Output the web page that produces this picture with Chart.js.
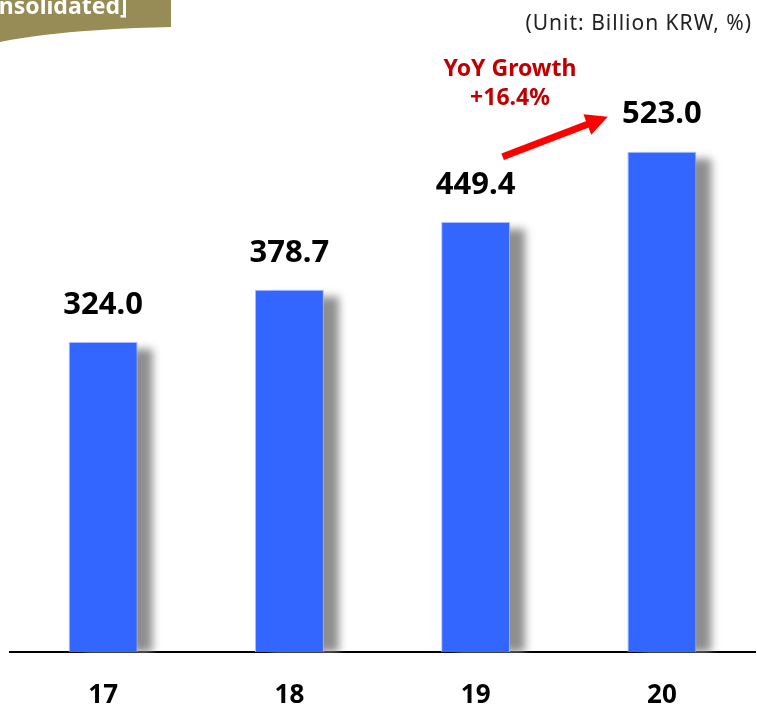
<!DOCTYPE html>
<html>
<head>
<meta charset="utf-8">
<script src="https://cdn.jsdelivr.net/npm/chart.js@4/dist/chart.umd.min.js"></script>
<style>
    body { margin: 0; background: #fff; font-family: "Noto Sans", sans-serif; }
    #wrap { position: relative; width: 757px; height: 706px; overflow: hidden; }
    #tag { position: absolute; left: 0; top: 0; }
    #tagText { position: absolute; left: -38px; top: -11px; color: #fff; font-weight: bold; font-size: 23px; white-space: nowrap; }
    #unit { position: absolute; right: 5px; top: 8px; color: #222; font-size: 21px; letter-spacing: 1px; }
    #yoy { position: absolute; left: 420px; top: 53px; width: 180px; text-align: center; color: #c00000; font-weight: bold; font-size: 23px; line-height: 29px; }
</style>
</head>
<body>
<div id="wrap">
    <canvas id="chart" width="757" height="706"></canvas>
    <svg id="tag" width="180" height="50">
        <path d="M0,0 L171,0 L171,27 C130,28 60,30 0,42 Z" fill="#978c55"/>
    </svg>
    <div id="tagText">[Consolidated]</div>
    <div id="unit">(Unit: Billion KRW, %)</div>
    <div id="yoy">YoY Growth<br>+16.4%</div>
</div>
<script>
// ===== Datos =====
const years = ['17', '18', '19', '20'];
const revenue = [324.0, 378.7, 449.4, 523.0];

// Sombra gris a la derecha de las barras
const shadowPlugin = {
    id: 'shadow',
    beforeDatasetsDraw(chart) {
        const ctx = chart.ctx;
        const meta = chart.getDatasetMeta(0);
        ctx.save();
        ctx.filter = 'blur(4px)';
        ctx.fillStyle = '#8e8e8e';
        meta.data.forEach(bar => {
            const w = bar.width;
            ctx.fillRect(bar.x - w / 2 + 15, bar.y + 7, w, bar.base - bar.y - 7);
        });
        ctx.restore();
        // limpiar la sombra por debajo de la línea base
        ctx.save();
        ctx.fillStyle = '#fff';
        ctx.fillRect(0, chart.chartArea.bottom + 1, chart.width, 14);
        ctx.restore();
    }
};

// Etiquetas de valor y flecha
const labelPlugin = {
    id: 'labels',
    afterDraw(chart) {
        const ctx = chart.ctx;
        const meta = chart.getDatasetMeta(0);
        ctx.save();
        ctx.fillStyle = '#000';
        ctx.font = 'bold 31px "Noto Sans"';
        ctx.textAlign = 'center';
        ctx.textBaseline = 'middle';
        meta.data.forEach((bar, i) => {
            ctx.fillText(revenue[i].toFixed(1), bar.x, bar.y - 37);
        });

        // flecha roja
        const b3 = meta.data[2], b4 = meta.data[3];
        const x1 = b3.x + 27, y1 = b4.y + 5;
        const x2 = b4.x - 54, y2 = b4.y - 35;
        const ang = Math.atan2(y2 - y1, x2 - x1);
        ctx.strokeStyle = '#ff0000';
        ctx.fillStyle = '#ff0000';
        ctx.lineWidth = 7;
        ctx.beginPath();
        ctx.moveTo(x1, y1);
        ctx.lineTo(x2 - 16 * Math.cos(ang), y2 - 16 * Math.sin(ang));
        ctx.stroke();
        ctx.beginPath();
        ctx.moveTo(x2, y2);
        ctx.lineTo(x2 - 22 * Math.cos(ang) + 11 * Math.sin(ang), y2 - 22 * Math.sin(ang) - 11 * Math.cos(ang));
        ctx.lineTo(x2 - 22 * Math.cos(ang) - 11 * Math.sin(ang), y2 - 22 * Math.sin(ang) + 11 * Math.cos(ang));
        ctx.closePath();
        ctx.fill();
        ctx.restore();
    }
};

new Chart(document.getElementById('chart').getContext('2d'), {
    type: 'bar',
    data: {
        labels: years,
        datasets: [{
            data: revenue,
            backgroundColor: '#3366ff',
            borderColor: '#a9bdff',
            borderWidth: 1,
            barPercentage: 0.37,
            categoryPercentage: 1
        }]
    },
    options: {
        responsive: false,
        animation: false,
        layout: { padding: { left: 10, right: 2, top: 78, bottom: 0 } },
        plugins: { legend: { display: false }, tooltip: { enabled: false } },
        scales: {
            x: {
                grid: { display: false },
                border: { display: true, color: '#000', width: 2 },
                ticks: { color: '#000', font: { family: 'Noto Sans', size: 26, weight: 'bold' }, padding: 20 },
                afterFit(scale) { scale.height = 54; }
            },
            y: {
                display: false,
                min: 0,
                max: 600
            }
        }
    },
    plugins: [shadowPlugin, labelPlugin]
});
</script>
</body>
</html>
